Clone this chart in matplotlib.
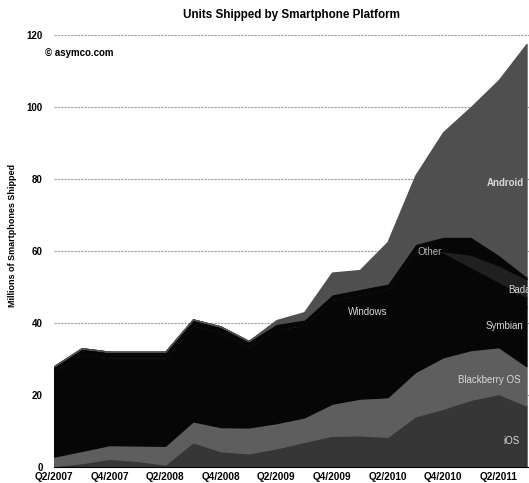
import matplotlib
matplotlib.use("Agg")
import matplotlib.pyplot as plt
import numpy as np

plt.rcParams["font.family"] = ["Liberation Sans", "DejaVu Sans"]

quarters = [
    "Q2/2007", "Q3/2007", "Q4/2007", "Q1/2008", "Q2/2008", "Q3/2008",
    "Q4/2008", "Q1/2009", "Q2/2009", "Q3/2009", "Q4/2009", "Q1/2010",
    "Q2/2010", "Q3/2010", "Q4/2010", "Q1/2011", "Q2/2011", "Q3/2011",
]

# millions of units
ios = [0.3, 1.1, 2.3, 1.7, 0.7, 6.9, 4.4, 3.8, 5.2, 7.0, 8.7, 8.8, 8.4, 14.1, 16.2, 18.7, 20.3, 17.1]
blackberry = [2.6, 3.4, 3.8, 4.3, 5.2, 5.8, 6.7, 7.2, 7.0, 6.8, 8.9, 10.2, 11.0, 12.3, 14.3, 13.8, 13.0, 10.9]
symbian = [17.0, 20.0, 18.0, 18.0, 18.5, 20.0, 19.5, 17.0, 19.5, 19.0, 22.0, 22.0, 24.0, 28.0, 25.0, 19.5, 15.0, 16.5]
windows = [6.6, 7.0, 6.4, 6.5, 6.1, 6.8, 6.9, 5.5, 6.6, 6.7, 6.9, 7.0, 6.1, 5.6, 4.2, 3.5, 3.2, 2.7]
bada = [0, 0, 0, 0, 0, 0, 0, 0, 0, 0, 0, 0, 0, 0, 0.3, 3.5, 4.5, 5.0]
other = [1.5, 1.5, 1.5, 1.5, 1.5, 1.5, 1.5, 1.5, 1.5, 1.5, 1.5, 1.5, 1.5, 2.0, 4.0, 5.0, 3.0, 0.8]
android = [0, 0, 0, 0, 0, 0, 0, 0, 1.0, 2.0, 6.0, 5.2, 11.5, 19.0, 29.0, 36.0, 48.5, 64.5]

series = [ios, blackberry, symbian, windows, bada, other, android]
colors = ["#363636", "#5e5e5e", "#060606", "#060606", "#202020", "#060606", "#4f4f4f"]

x = np.arange(len(quarters))

fig = plt.figure(figsize=(5.29, 4.83), dpi=100)
ax = fig.add_axes([0.1021, 0.0331, 0.8979, 0.8944])

polys = ax.stackplot(x, *series, colors=colors)
for poly, c in zip(polys, colors):
    poly.set_edgecolor(c)
    poly.set_linewidth(1.0)

ax.set_xlim(0, 17.09)
ax.set_ylim(0, 120)
ax.set_yticks(range(0, 121, 20))
ax.set_xticks(x[::2])
ax.set_xticklabels(quarters[::2], fontsize=7.2, fontweight="bold")
ax.tick_params(axis="y", length=0, pad=8, labelsize=7)
ax.tick_params(axis="x", length=0, pad=3.5)
for lbl in ax.get_yticklabels():
    lbl.set_fontweight("bold")

ax.set_axisbelow(True)
ax.yaxis.grid(True, color="#9a9a9a", linewidth=0.8, linestyle=(0, (2, 1)))
for side in ["left", "top", "right"]:
    ax.spines[side].set_visible(False)
ax.spines["bottom"].set_linewidth(0.8)

ax.set_title("Units Shipped by Smartphone Platform", fontsize=8.4, fontweight="bold", pad=12)
fig.text(0.024, 0.513, "Millions of Smartphones Shipped", rotation=90, fontsize=6.5,
         fontweight="bold", ha="center", va="center")
fig.text(0.086, 0.89, "\u00a9 asymco.com", fontsize=7, fontweight="bold", ha="left", va="center")

label_color = "#d8d8d8"
ax.text(16.22, 78.9, "Android", color=label_color, fontsize=7, fontweight="bold", ha="center", va="center")
ax.text(13.5, 59.7, "Other", color="#b0b0b0", fontsize=7, ha="center", va="center")
ax.text(16.33, 49.2, "Bada", color=label_color, fontsize=7, ha="left", va="center")
ax.text(11.3, 43.0, "Windows", color=label_color, fontsize=7, ha="center", va="center")
ax.text(15.54, 39.2, "Symbian", color=label_color, fontsize=7, ha="left", va="center")
ax.text(14.53, 24.2, "Blackberry OS", color=label_color, fontsize=7, ha="left", va="center")
ax.text(16.47, 7.2, "iOS", color=label_color, fontsize=7, ha="center", va="center")

fig.savefig("out.png", dpi=100)
